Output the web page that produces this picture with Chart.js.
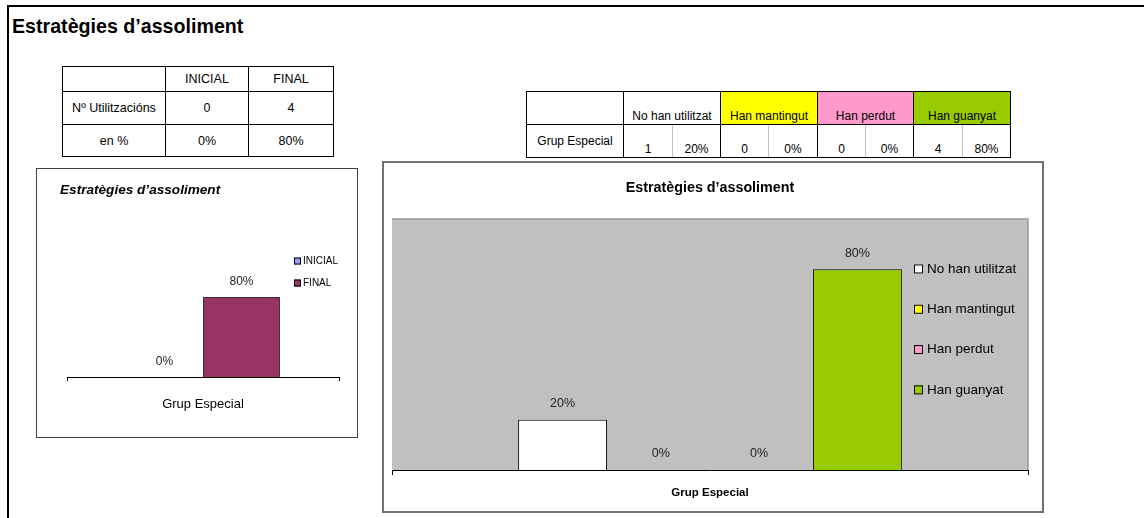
<!DOCTYPE html>
<html><head><meta charset="utf-8">
<script src="https://cdn.jsdelivr.net/npm/chart.js@4.4.1/dist/chart.umd.min.js"></script>
<style>
html,body{margin:0;padding:0;background:#fff;}
body{width:1144px;height:518px;position:relative;overflow:hidden;font-family:"Liberation Sans",Arial,sans-serif;color:#000;}
#sheet{position:absolute;left:7px;top:5px;width:1137px;height:513px;border-left:2px solid #000;border-top:2px solid #000;}
h1{position:absolute;left:12px;top:12px;margin:0;font-size:21px;font-weight:bold;line-height:28px;white-space:nowrap;transform:scaleX(0.935);transform-origin:0 50%;}
table{position:absolute;border-collapse:collapse;table-layout:fixed;font-size:12.5px;}
td{border:1px solid #000;text-align:center;padding:0;white-space:nowrap;overflow:hidden;}
#t1{left:62px;top:66px;}
#t2{left:526px;top:91px;font-size:12px;}
#t2 td{vertical-align:bottom;padding-bottom:1px;}
#t2 td.first{vertical-align:middle;padding-bottom:0;}
#t2 td.sub{border-right-color:#c0c0c0;}
.frame{position:absolute;box-sizing:border-box;background:#fff;}
#f1{left:36px;top:168px;width:322px;height:270px;border:1px solid #404040;}
#f2{left:382px;top:161px;width:662px;height:352px;border:2px solid #727272;}
.holder{position:absolute;}
</style></head><body>
<div id="sheet"></div>
<h1 id="pageTitle"></h1>
<table id="t1"></table>
<table id="t2"></table>
<div class="frame" id="f1"></div>
<div class="holder" style="left:38px;top:170px;width:318px;height:266px;"><canvas id="c1"></canvas></div>
<div class="frame" id="f2"></div>
<div class="holder" style="left:384px;top:163px;width:658px;height:348px;"><canvas id="c2"></canvas></div>
<script>
// ---- data ----
const pageTitle = 'Estratègies d\u2019assoliment';
const groupLabels = ['Grup Especial'];

const phaseSeries = ['INICIAL', 'FINAL'];
const phaseCounts = [0, 4];
const phasePercents = [0, 80];

const changeSeries = ['No han utilitzat', 'Han mantingut', 'Han perdut', 'Han guanyat'];
const changeCounts = [1, 0, 0, 4];
const changePercents = [20, 0, 0, 80];

const countRowLabel = 'N\u00ba Utilitzacións';
const percentRowLabel = 'en %';

// ---- palette ----
const phaseColors = ['#9999FF', '#993366'];
const changeColors = ['#FFFFFF', '#FFFF00', '#FF99CC', '#99CC00'];

const SANS = '"Liberation Sans", Arial, sans-serif';

// ---- page heading and tables ----
document.getElementById('pageTitle').textContent = pageTitle;

function cell(tr, text, attrs) {
  const td = document.createElement('td');
  td.textContent = text;
  Object.assign(td.style, (attrs && attrs.style) || {});
  if (attrs && attrs.colSpan) td.colSpan = attrs.colSpan;
  if (attrs && attrs.cls) td.className = attrs.cls;
  tr.appendChild(td);
  return td;
}

(function buildPhaseTable() {
  const t = document.getElementById('t1');
  const cg = document.createElement('colgroup');
  [103, 83, 85].forEach(w => { const c = document.createElement('col'); c.style.width = w + 'px'; cg.appendChild(c); });
  t.appendChild(cg);
  const h = t.insertRow(); h.style.height = '25px';
  cell(h, '');
  phaseSeries.forEach(s => cell(h, s));
  const r1 = t.insertRow(); r1.style.height = '33px';
  cell(r1, countRowLabel);
  phaseCounts.forEach(v => cell(r1, String(v)));
  const r2 = t.insertRow(); r2.style.height = '32px';
  cell(r2, percentRowLabel);
  phasePercents.forEach(v => cell(r2, v + '%'));
})();

(function buildChangeTable() {
  const t = document.getElementById('t2');
  const cg = document.createElement('colgroup');
  [97, 49, 48, 48, 49, 48, 48, 49, 48].forEach(w => { const c = document.createElement('col'); c.style.width = w + 'px'; cg.appendChild(c); });
  t.appendChild(cg);
  const h = t.insertRow(); h.style.height = '33px';
  cell(h, '');
  changeSeries.forEach((s, i) => cell(h, s, { colSpan: 2, style: { background: changeColors[i] } }));
  const r = t.insertRow(); r.style.height = '33px';
  cell(r, groupLabels[0], { cls: 'first' });
  changeSeries.forEach((s, i) => {
    cell(r, String(changeCounts[i]), { cls: 'sub' });
    cell(r, changePercents[i] + '%');
  });
})();

// ---- plugins ----
const plotBackground = {
  id: 'plotBackground',
  beforeDraw(chart, args, o) {
    if (!o || !o.color) return;
    const { ctx, chartArea: a } = chart;
    ctx.save();
    ctx.fillStyle = o.color;
    ctx.fillRect(a.left, a.top, a.width, a.height);
    ctx.strokeStyle = o.edge;
    ctx.lineWidth = 1.5;
    ctx.beginPath();
    ctx.moveTo(a.left, a.top);
    ctx.lineTo(a.right, a.top);
    ctx.lineTo(a.right, a.bottom);
    ctx.stroke();
    ctx.restore();
  }
};

const valueLabels = {
  id: 'valueLabels',
  afterDatasetsDraw(chart, args, o) {
    const { ctx } = chart;
    ctx.save();
    ctx.font = o.font;
    ctx.fillStyle = o.color;
    ctx.textAlign = 'center';
    ctx.textBaseline = 'middle';
    chart.data.datasets.forEach((ds, i) => {
      chart.getDatasetMeta(i).data.forEach((bar, j) => {
        ctx.fillText(ds.data[j] + '%', bar.x, bar.y - o.gap);
      });
    });
    ctx.restore();
  }
};

const insideLegend = {
  id: 'insideLegend',
  afterDraw(chart, args, o) {
    const { ctx, chartArea: a } = chart;
    ctx.save();
    ctx.font = o.font;
    ctx.textAlign = 'left';
    ctx.textBaseline = 'middle';
    chart.data.datasets.forEach((ds, i) => {
      const x = a.right - o.fromRight;
      const y = a.top + o.firstRow + i * o.rowGap;
      ctx.fillStyle = ds.backgroundColor;
      ctx.fillRect(x, y - o.box / 2, o.box, o.box);
      ctx.strokeStyle = '#000';
      ctx.lineWidth = 1;
      ctx.strokeRect(x + 0.5, y - o.box / 2 + 0.5, o.box - 1, o.box - 1);
      ctx.fillStyle = o.color;
      ctx.fillText(ds.label, x + o.box + o.textGap, y);
    });
    ctx.restore();
  }
};

Chart.defaults.animation = false;
Chart.defaults.color = '#000';

// ---- INICIAL / FINAL chart ----
new Chart(document.getElementById('c1'), {
  type: 'bar',
  data: {
    labels: groupLabels,
    datasets: phaseSeries.map((s, i) => ({
      label: s,
      data: [phasePercents[i]],
      backgroundColor: phaseColors[i],
      borderColor: '#333',
      borderWidth: 1,
      categoryPercentage: 0.566,
      barPercentage: 1
    }))
  },
  options: {
    responsive: true,
    maintainAspectRatio: false,
    layout: { padding: { left: 22, right: 17, top: 0, bottom: 0 } },
    plugins: {
      legend: { display: false },
      tooltip: { enabled: false },
      title: {
        display: true,
        text: pageTitle,
        align: 'start',
        color: '#000',
        font: { family: SANS, size: 13.6, weight: 'bold', style: 'italic' },
        padding: { top: 11.8, bottom: 78.9 }
      },
      valueLabels: { font: '12px ' + SANS, color: '#222', gap: 15 },
      insideLegend: { font: '10px ' + SANS, color: '#000', fromRight: 45, firstRow: -16, rowGap: 22, box: 7, textGap: 2 }
    },
    scales: {
      x: {
        grid: { display: true, drawOnChartArea: false, drawTicks: true, tickLength: 4, color: '#000' },
        border: { display: true, color: '#000', width: 1 },
        ticks: { font: { family: SANS, size: 13 }, color: '#000', padding: 16 },
        afterFit: s => { s.height = 59; }
      },
      y: {
        display: true,
        min: 0, max: 100,
        ticks: { display: false },
        grid: { display: false },
        border: { display: false },
        afterFit: s => { s.width = 7; }
      }
    }
  },
  plugins: [valueLabels, insideLegend]
});

// ---- change chart ----
new Chart(document.getElementById('c2'), {
  type: 'bar',
  data: {
    labels: groupLabels,
    datasets: changeSeries.map((s, i) => ({
      label: s,
      data: [changePercents[i]],
      backgroundColor: changeColors[i],
      borderColor: '#000',
      borderWidth: 1,
      categoryPercentage: 0.618,
      barPercentage: 0.905
    }))
  },
  options: {
    responsive: true,
    maintainAspectRatio: false,
    layout: { padding: { left: 8, right: 14, top: 0, bottom: 0 } },
    plugins: {
      legend: { display: false },
      tooltip: { enabled: false },
      title: {
        display: true,
        text: pageTitle,
        color: '#000',
        font: { family: SANS, size: 14.3, weight: 'bold' },
        padding: { top: 16.4, bottom: 22.4 }
      },
      plotBackground: { color: '#C0C0C0', edge: '#999999' },
      valueLabels: { font: '12.5px ' + SANS, color: '#222', gap: 16 },
      insideLegend: { font: '13.5px ' + SANS, color: '#000', fromRight: 114, firstRow: 50, rowGap: 40.3, box: 9, textGap: 4 }
    },
    scales: {
      x: {
        grid: { display: true, drawOnChartArea: false, drawTicks: true, tickLength: 5, color: '#000' },
        border: { display: true, color: '#000', width: 1 },
        ticks: { font: { family: SANS, size: 11.5, weight: 'bold' }, color: '#000', padding: 11 },
        afterFit: s => { s.height = 41; }
      },
      y: { display: false, min: 0, max: 100 }
    }
  },
  plugins: [plotBackground, valueLabels, insideLegend]
});
</script>
</body></html>
